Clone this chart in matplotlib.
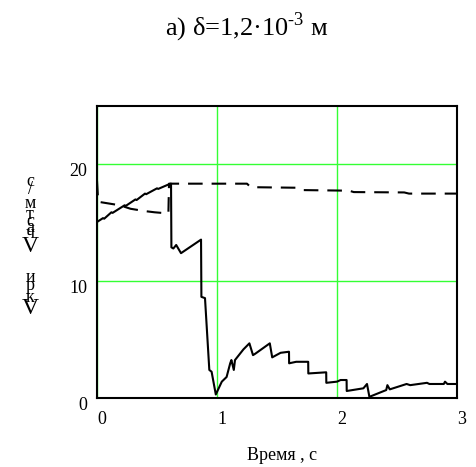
import matplotlib
matplotlib.use("Agg")
import matplotlib.pyplot as plt
from matplotlib.transforms import ScaledTranslation

plt.rcParams['font.family'] = ['Liberation Serif', 'DejaVu Serif']
plt.rcParams['mathtext.fontset'] = 'custom'
plt.rcParams['mathtext.rm'] = 'Liberation Serif'

# Solid line (V кр)
t_solid = [0.0, 0.05, 0.06, 0.12, 0.13, 0.23, 0.24, 0.32, 0.33, 0.40, 0.41, 0.50, 0.51, 0.60, 0.617,
           0.62, 0.636, 0.66, 0.70, 0.867, 0.87, 0.90, 0.936, 0.955, 0.99,
           1.01, 1.04, 1.08, 1.11, 1.12, 1.14, 1.15, 1.22, 1.27, 1.30, 1.32, 1.44, 1.46, 1.53,
           1.60, 1.601, 1.66, 1.76, 1.761, 1.91, 1.911, 2.0, 2.03, 2.08, 2.081, 2.22, 2.25, 2.27,
           2.41, 2.42, 2.44, 2.58, 2.61, 2.75, 2.77, 2.89, 2.90, 2.92, 3.0]
v_solid = [15.07, 15.4, 15.35, 15.9, 15.85, 16.5, 16.45, 17.0, 16.95, 17.5, 17.45, 17.95, 17.9, 18.3, 18.35,
           12.9, 12.8, 13.1, 12.4, 13.56, 8.66, 8.55, 2.4, 2.25, 0.3,
           0.74, 1.4, 1.8, 2.97, 3.25, 2.4, 3.25, 4.16, 4.68, 3.67, 3.8, 4.68, 3.48, 3.87,
           3.96, 2.97, 3.1, 3.1, 2.1, 2.2, 1.3, 1.4, 1.54, 1.54, 0.6, 0.83, 1.2, 0.1,
           0.68, 1.1, 0.74, 1.2, 1.1, 1.3, 1.2, 1.2, 1.4, 1.2, 1.2]

# Dashed line (V част)
t_dash = [0.0, 0.01, 0.07, 0.19, 0.28, 0.40, 0.48, 0.595, 0.60,
          1.25, 1.28, 1.68, 1.72, 2.10, 2.14, 2.56, 2.60, 3.0]
v_dash = [18.6, 16.8, 16.7, 16.5, 16.2, 16.0, 15.9, 15.8, 18.35,
          18.35, 18.05, 18.0, 17.8, 17.75, 17.63, 17.6, 17.5, 17.5]

x_ticks = [0, 1, 2, 3]
y_ticks = [0, 10, 20]
ylabel_chars = ['с', '/', 'м', 'т', 'с', 'а', 'ч', 'V', 'и', 'р', 'к', 'V']
ylabel_ypix = [182, 190, 203, 215, 221, 227, 234, 246, 277, 286, 297, 309]

W, H = 476, 467
fig = plt.figure(figsize=(W / 100, H / 100), dpi=100)
ax = fig.add_axes([97 / W, 1 - 398 / H, 360 / W, 292 / H])

ax.plot(t_solid, v_solid, color='black', lw=1.5, zorder=3)
ax.plot(t_dash, v_dash, color='black', lw=1.5, linestyle=(0, (7, 4.3)), zorder=3)

ax.set_xlim(0, 3)
ax.set_ylim(0, 25)
ax.set_xticks(x_ticks)
ax.set_yticks(y_ticks)
ax.set_xticklabels([str(v) for v in x_ticks])
ax.set_yticklabels([str(v) for v in y_ticks])
ax.grid(True, color='#33ff33', lw=1.0)
ax.set_axisbelow(True)
ax.tick_params(length=0, labelsize=13, pad=7)
for s in ax.spines.values():
    s.set_linewidth(1.5)
    s.set_color('black')

for lab in ax.get_xticklabels():
    lab.set_transform(lab.get_transform() + ScaledTranslation(5 / 100, -3 / 100, fig.dpi_scale_trans))
for lab in ax.get_yticklabels():
    lab.set_transform(lab.get_transform() + ScaledTranslation(0, -5 / 100, fig.dpi_scale_trans))

fig.text(247 / W, 1 - 27 / H, 'а) δ=1,2·10$^{\\mathregular{\u20103}}$ м', ha='center', va='center', fontsize=19)
fig.text(282 / W, 1 - 455 / H, 'Время , с', ha='center', va='center', fontsize=13)

for ch, yp in zip(ylabel_chars, ylabel_ypix):
    fs = 17 if ch == 'V' else 13
    fig.text(30 / W, 1 - yp / H, ch, ha='center', va='center', fontsize=fs)

fig.savefig('out.png', dpi=100)
